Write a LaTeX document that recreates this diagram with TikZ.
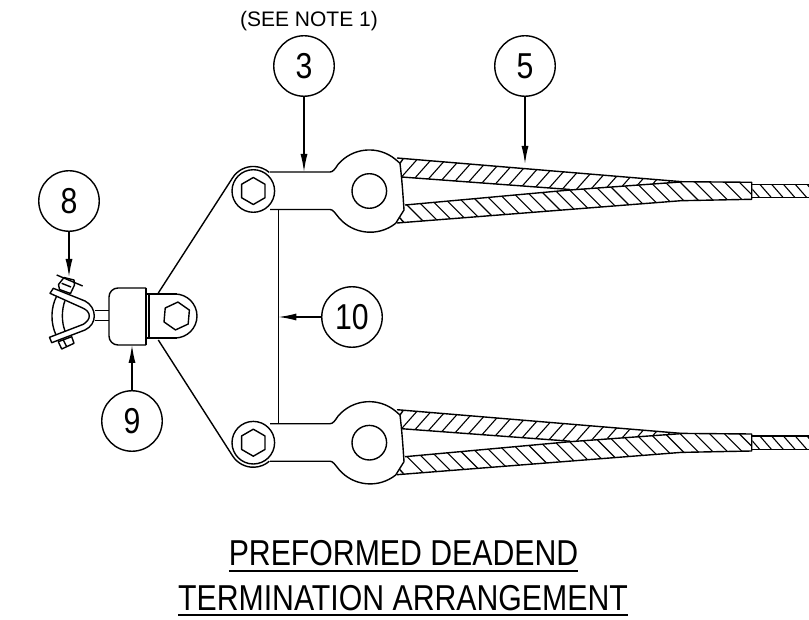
\documentclass[tikz,border=0pt]{standalone}
\usepackage{fontspec}
\setmainfont[FakeStretch=0.84]{Liberation Sans}
\newfontfamily\notefont{Liberation Sans}
\usetikzlibrary{arrows.meta}
\newcommand\HexHead[4]{% x, y, radius, rotation
  \draw[shift={(#1,#2)}] (#4:#3) -- (#4+60:#3) -- (#4+120:#3) -- (#4+180:#3)
    -- (#4+240:#3) -- (#4+300:#3) -- cycle;
}
\newcommand\DeadendLeg[1]{% upper leg, moved down by #1
  \begin{scope}[shift={(0,#1)}]
  % link and lug
  \draw (253.3,191) circle (21.3);
  \HexHead{253.3}{191}{13.5}{-90}
  \draw (270,172) -- (330,172) .. controls (333,172) and (335,169) .. (337.9,164.6)
    arc (220:310:41) -- (400,163.3) .. controls (402,180) and (403,195) .. (404,210)
    -- (395.7,223.3) arc (51.5:140:41) .. controls (335,213) and (333,209.5) .. (330,209.5)
    -- (270,209.5);
  \draw (369.3,191) circle (17.3);
  % strands
  \begin{scope}
    \clip (397,158) -- (681.7,181.7) -- (570,189.5) -- (401.5,177) -- cycle;
    \foreach \x in {0,...,20} {
      \draw[hatch] (390+\x*14.3,190) -- (390+\x*14.3+35.5,150);
    }
  \end{scope}
  \begin{scope}
    \clip (405,205) -- (570,190) -- (681.7,181.9) -- (751.7,182.3) -- (751.7,199.3)
      -- (681,200.7) -- (397,223) -- cycle;
    \foreach \x in {0,...,25} {
      \draw[hatch] (382+\x*14.8,180) -- (382+\x*14.8+45,225);
    }
  \end{scope}
  \begin{scope}
    \clip (752.3,184.3) rectangle (809,197.7);
    \foreach \x in {0,...,5} {
      \draw[hatch] (748+\x*11.8,184.3) -- (748+\x*11.8+11.7,197.7);
    }
  \end{scope}
  \draw (397,158) -- (681.7,181.7) -- (751.7,182.3) -- (751.7,199.3) -- (681,200.7) -- (397,223);
  \draw (401.5,177) -- (570,189.5);
  \draw (405,205) -- (570,190) -- (681.7,181.9);
  \draw (400,163.3) -- (403,159) (399.5,217.5) -- (403.5,222);
  \draw (752.3,184.3) -- (809,184.3) (752.3,197.7) -- (809,197.7);
  \end{scope}
}
\tikzset{%
  >={Latex[length=18pt,width=7pt]}, % long thin arrow heads
  balloon/.style={draw,circle,minimum size=60.5pt,inner sep=0pt,outer sep=0pt,
    font=\fontsize{36}{36}\selectfont},%
  leader/.style={->,line width=1.4pt},%
  hatch/.style={line width=1.1pt},%
  heading/.style={inner sep=0pt,outer sep=0pt,anchor=base,
    font=\fontsize{36}{36}\selectfont}%
}
\begin{document}
\begin{tikzpicture}[x=1pt,y=-1pt,line width=1.4pt,line join=round]
\useasboundingbox (0,0) rectangle (809,620);

%legs
\DeadendLeg{0}
\DeadendLeg{251.7}
%spreader and side plates
\draw (158.3,293) -- (232.6,177.8) arc (212.5:311:24.5);
\draw (158.3,340) -- (232.6,455.9) arc (147.5:49:24.5);
\draw (278.3,209.5) -- (278.3,424);
%clevis
\draw[rounded corners=9pt] (146,288) -- (109,288) -- (109,345) -- (146,345);
\draw (146,288) -- (146,345);
\draw (149,294) -- (149,338);
\draw[line width=2.2pt] (147,294) -- (177,294) (147,338) -- (177,338);
\draw (175,294) arc (-90:90:22);
\HexHead{176.7}{316}{14}{-85}
%stem
\draw (95,310.7) -- (109,310.7) (95,320.7) -- (109,320.7);
%shackle
\draw (53.3,288.3) -- (85,301) .. controls (91,304) and (94.3,310) .. (94.3,316)
  .. controls (94.3,322) and (91,327) .. (85,330) -- (51.7,342.7)
  -- (49.5,337.3) -- (83.3,324.3) .. controls (87,322) and (89.3,319) .. (89.3,316)
  .. controls (89.3,313) and (87,310) .. (83.3,308.3) -- (50,293.3) -- cycle;
\draw (56.7,296) .. controls (50.5,308) and (50.5,323) .. (56,335);
\draw (65,300.5) .. controls (61.5,310) and (61.5,322) .. (65,331);
%nuts
\draw (64,277.5) -- (74,280) -- (74.5,285) -- (70.5,293.5) -- (59.5,289.5) -- (58.5,284.5) -- cycle;
\draw (61.7,283.3) -- (71,287);
\draw (56.7,275) -- (82.7,286);
\draw (58.3,341.7) -- (71.7,336.7) -- (74,343.3) -- (61.7,349) -- cycle;
\draw (63.3,340) -- (66.7,346.7);
%labels
\node[balloon] (b3) at (304,66) {3};
\node[balloon] (b5) at (525,66) {5};
\node[balloon] (b8) at (69,201) {8};
\node[balloon] (b9) at (132,421) {9};
\node[balloon] (b10) at (352,317) {10};
\node[inner sep=0pt,font=\notefont\fontsize{21}{21}\selectfont] (note) at (309,21) {(SEE NOTE 1)};
\coordinate (tip3) at (304,172);
\coordinate (tip5) at (525,164);
\coordinate (tip8) at (69,277);
\coordinate (tip9) at (132,345);
\coordinate (tip10) at (278.3,317);
\draw[leader] (b3) -- (tip3);
\draw[leader] (b5) -- (tip5);
\draw[leader] (b8) -- (tip8);
\draw[leader] (b9) -- (tip9);
\draw[leader] (b10) -- (tip10);
\node[heading] (title1) at (403.5,565.7) {PREFORMED DEADEND};
\node[heading] (title2) at (403,610) {TERMINATION ARRANGEMENT};
\draw ([yshift=-5.3pt]title1.base west) -- ([yshift=-5.3pt]title1.base east);
\draw ([yshift=-5pt]title2.base west) -- ([yshift=-5pt]title2.base east);

\end{tikzpicture}
\end{document}
